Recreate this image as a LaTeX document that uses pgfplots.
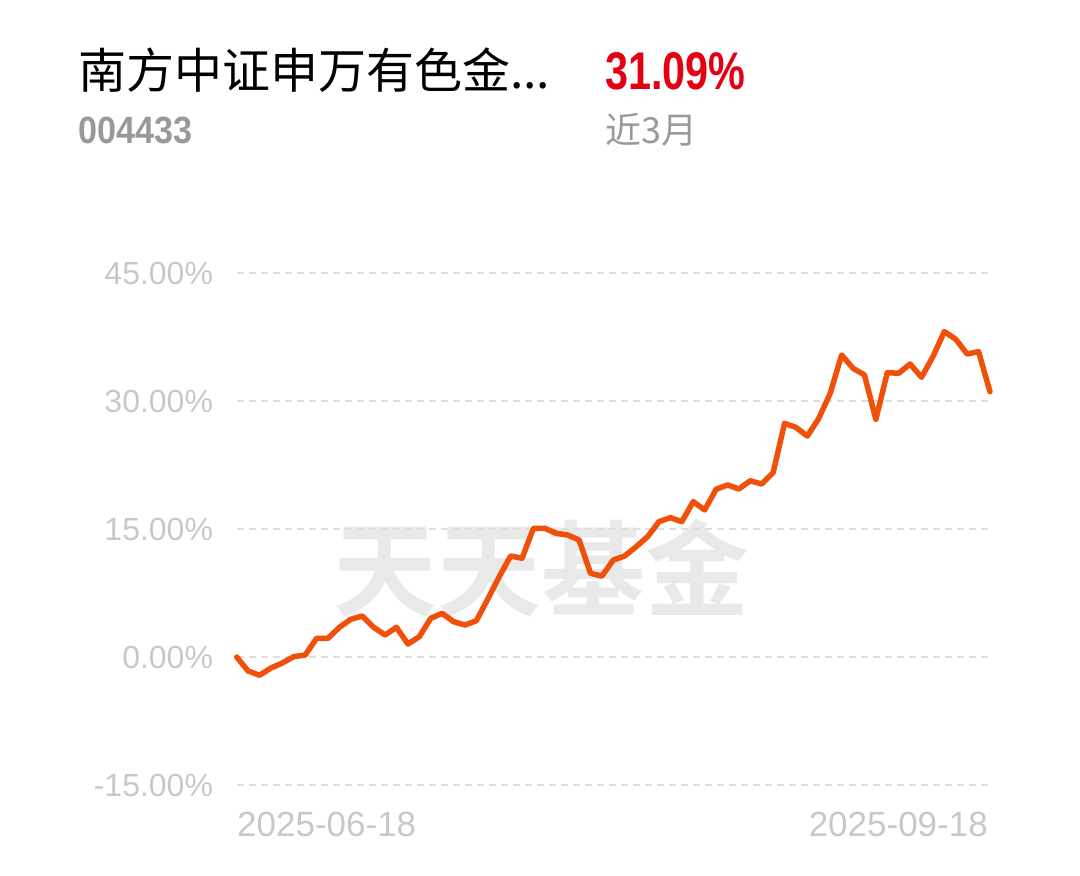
\documentclass[border=0pt]{standalone}
\usepackage{fontspec}
\usepackage{pgfplots}
\pgfplotsset{compat=1.18}
\setmainfont{Liberation Sans}
\newfontfamily\cjk{Noto Sans CJK SC}
\newfontfamily\cjkb{Noto Sans CJK SC Bold}
\definecolor{lineor}{RGB}{240,80,10}
\definecolor{tickgray}{RGB}{200,200,200}
\definecolor{gridgray}{RGB}{222,222,222}
\definecolor{subgray}{RGB}{153,153,153}
\definecolor{redtxt}{RGB}{228,0,18}
\definecolor{wmgray}{RGB}{233,233,233}
\begin{document}
\begin{tikzpicture}
\path[use as bounding box] (0,0) rectangle (1080pt,876pt);
% header
\node[anchor=west,inner sep=0pt] at (78pt,806pt) {\cjk\fontsize{48}{56}\selectfont 南方中证申万有色金...};
\node[anchor=base west,inner sep=0pt,text=redtxt] at (605pt,786pt) {\scalebox{0.78}[1]{\fontsize{53}{60}\selectfont\bfseries 31.09\%}};
\node[anchor=base west,inner sep=0pt,text=subgray] at (78pt,732pt) {\scalebox{0.9}[1]{\fontsize{38}{44}\selectfont\bfseries 004433}};
\node[anchor=west,inner sep=0pt,text=subgray] at (605pt,746pt) {\cjk\fontsize{36}{42}\selectfont 近3月};
% watermark
\node[inner sep=0pt,text=wmgray] at (541pt,308pt) {\cjkb\fontsize{104}{110}\selectfont 天天基金};
\begin{axis}[
  at={(236.7pt,91pt)}, anchor=south west,
  scale only axis, width=753.3pt, height=512pt,
  xmin=0, xmax=66, ymin=-15, ymax=45,
  axis line style={draw=none},
  tick style={draw=none},
  xtick=\empty,
  ytick={-15,0,15,30,45},
  ymajorgrids,
  grid style={gridgray, line width=1.5pt, dash pattern=on 7pt off 5pt},
  /pgf/number format/assume math mode=true,
  yticklabel={\pgfmathprintnumber[fixed,fixed zerofill,precision=2]{\tick}\%},
  yticklabel style={anchor=east, inner sep=0pt, xshift=-23.5pt, text=tickgray, font=\fontsize{32}{38}\selectfont},
  clip=false,
]
\addplot[lineor, line width=5.5pt, line join=round, line cap=round] coordinates {
(0,0.00) (1,-1.64) (2,-2.14) (3,-1.29) (4,-0.70) (5,0.04) (6,0.23) (7,2.19) (8,2.19) (9,3.48)
(10,4.42) (11,4.80) (12,3.48) (13,2.58) (14,3.48) (15,1.52) (16,2.38) (17,4.53) (18,5.12) (19,4.14)
(20,3.75) (21,4.25) (22,6.8) (23,9.4) (24,11.84) (25,11.57) (26,15.08) (27,15.08) (28,14.49) (29,14.30)
(30,13.71) (31,9.80) (32,9.49) (33,11.37) (34,11.84) (35,12.93) (36,14.10) (37,15.86) (38,16.33) (39,15.86)
(40,18.21) (41,17.23) (42,19.65) (43,20.16) (44,19.69) (45,20.66) (46,20.27) (47,21.60) (48,27.38) (49,26.91)
(50,25.89) (51,27.97) (52,30.90) (53,35.39) (54,33.83) (55,33.05) (56,27.85) (57,33.32) (58,33.25) (59,34.34)
(60,32.78) (61,35.20) (62,38.13) (63,37.24) (64,35.51) (65,35.78) (66,31.09)
};
\end{axis}
% dates
\node[anchor=base west,inner sep=0pt,text=tickgray] at (237pt,39pt) {\fontsize{35}{40}\selectfont 2025-06-18};
\node[anchor=base east,inner sep=0pt,text=tickgray] at (988pt,39pt) {\fontsize{35}{40}\selectfont 2025-09-18};
\end{tikzpicture}
\end{document}
